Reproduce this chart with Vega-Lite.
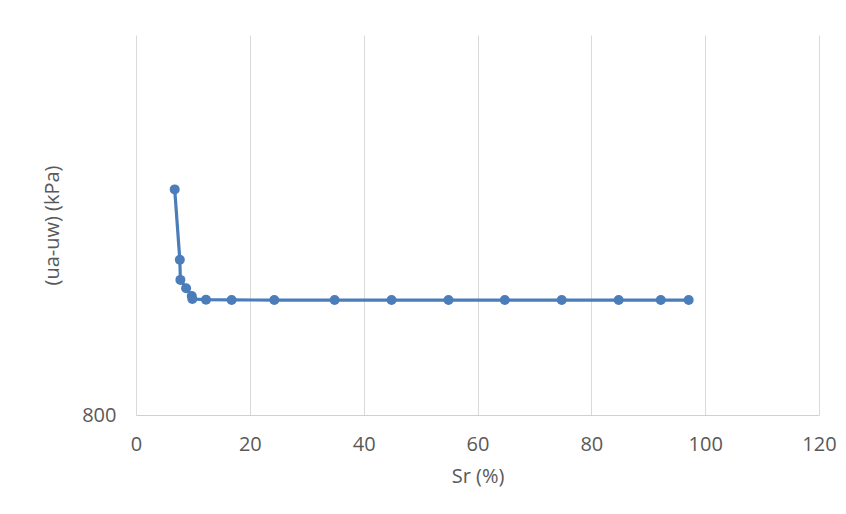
{
  "$schema": "https://vega.github.io/schema/vega-lite/v6.json",
  "width": 683,
  "height": 380,
  "autosize": "none",
  "padding": {"left": 136, "top": 35, "right": 27, "bottom": 99},
  "background": "white",
  "config": {
    "view": {"stroke": null},
    "font": "Open Sans",
    "axis": {
      "labelFont": "Open Sans",
      "titleFont": "Open Sans",
      "labelFontSize": 20,
      "titleFontSize": 20,
      "labelColor": "#595959",
      "titleColor": "#595959",
      "titleFontWeight": "normal",
      "labelFlush": false,
      "ticks": false,
      "gridColor": "#d9d9d9",
      "gridWidth": 1,
      "domainColor": "#d0d0d0",
      "domainWidth": 1
    }
  },
  "data": {
    "values": [
      {"i": 1, "Sr": 6.8, "s": 2900},
      {"i": 2, "Sr": 7.7, "s": 1940},
      {"i": 3, "Sr": 7.8, "s": 1730},
      {"i": 4, "Sr": 8.8, "s": 1650},
      {"i": 5, "Sr": 9.8, "s": 1578},
      {"i": 6, "Sr": 9.9, "s": 1551},
      {"i": 7, "Sr": 12.3, "s": 1545},
      {"i": 8, "Sr": 16.8, "s": 1543},
      {"i": 9, "Sr": 24.3, "s": 1542},
      {"i": 10, "Sr": 34.9, "s": 1542},
      {"i": 11, "Sr": 44.9, "s": 1542},
      {"i": 12, "Sr": 54.9, "s": 1542},
      {"i": 13, "Sr": 64.8, "s": 1542},
      {"i": 14, "Sr": 74.8, "s": 1542},
      {"i": 15, "Sr": 84.8, "s": 1542},
      {"i": 16, "Sr": 92.2, "s": 1542},
      {"i": 17, "Sr": 97.1, "s": 1542}
    ]
  },
  "encoding": {
    "x": {
      "field": "Sr",
      "type": "quantitative",
      "scale": {"domain": [0, 120], "nice": false, "zero": false},
      "axis": {
        "title": "Sr (%)",
        "values": [0, 20, 40, 60, 80, 100, 120],
        "grid": true,
        "labelPadding": 19,
        "titlePadding": 12
      }
    },
    "y": {
      "field": "s",
      "type": "quantitative",
      "scale": {"type": "log", "domain": [800, 7000], "nice": false},
      "axis": {
        "title": "(ua-uw) (kPa)",
        "values": [800],
        "grid": false,
        "domain": false,
        "labelPadding": 20,
        "titlePadding": 19
      }
    },
    "order": {"field": "i", "type": "quantitative"}
  },
  "layer": [
    {"mark": {"type": "line", "color": "#4a7dba", "strokeWidth": 3.2}},
    {"mark": {"type": "point", "filled": true, "opacity": 1, "color": "#4a7dba", "size": 100}}
  ]
}
